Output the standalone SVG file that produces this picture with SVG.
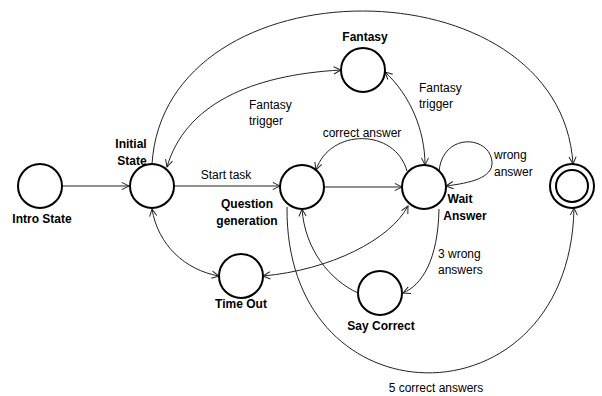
<svg xmlns="http://www.w3.org/2000/svg" width="602" height="396" viewBox="0 0 602 396">
<defs>
<marker id="arr" viewBox="0 0 10 10" refX="9" refY="5" markerWidth="9" markerHeight="9" markerUnits="userSpaceOnUse" orient="auto-start-reverse">
<path d="M1,1 L9,5 L1,9" fill="none" stroke="#222" stroke-width="1.1"/>
</marker>
<style>
.st{fill:#fff;stroke:#000;stroke-width:2}
.e{fill:none;stroke:#222;stroke-width:1}
.lb{font-family:"Liberation Sans",Arial,sans-serif;font-size:12px;font-weight:bold;fill:#000}
.t{font-family:"Liberation Sans",Arial,sans-serif;font-size:12px;fill:#000}
</style>
</defs>
<rect width="602" height="396" fill="#fff"/>
<g id="connectors">
<path class="e" d="M62,186 L129,186" marker-end="url(#arr)"/>
<path class="e" d="M174,186 L280,186" marker-end="url(#arr)"/>
<path class="e" d="M324,187 L402,187" marker-end="url(#arr)"/>
<path class="e" d="M152,164 C165,-40 560,-40 573,164" marker-end="url(#arr)"/>
<path class="e" d="M167,167 C185,105 250,75 341,70" marker-start="url(#arr)" marker-end="url(#arr)"/>
<path class="e" d="M385,72 C410,95 425,130 425,165" marker-start="url(#arr)" marker-end="url(#arr)"/>
<path class="e" d="M407,171 C395,128 330,128 316,170" marker-end="url(#arr)"/>
<path class="e" d="M439,172 C442,132 490,135 492,162 C493,178 470,183 446,186" marker-end="url(#arr)"/>
<path class="e" d="M439,209 C438,260 422,285 403,293" marker-end="url(#arr)"/>
<path class="e" d="M358,293 C330,280 305,250 302,209" marker-end="url(#arr)"/>
<path class="e" d="M263,276 C330,270 390,240 408,206" marker-start="url(#arr)" marker-end="url(#arr)"/>
<path class="e" d="M152,209 C158,245 185,270 219,276" marker-start="url(#arr)" marker-end="url(#arr)"/>
<path class="e" d="M287,207 C285,428 570,428 574,208" marker-end="url(#arr)"/>
</g>
<g id="intro"><circle class="st" cx="40" cy="186" r="22"/><text class="lb" x="42" y="223" text-anchor="middle">Intro State</text></g>
<g id="initial"><circle class="st" cx="152" cy="186" r="22"/><text class="lb" x="131" y="148" text-anchor="middle">Initial</text><text class="lb" x="132" y="165" text-anchor="middle">State</text></g>
<g id="question"><circle class="st" cx="302" cy="187" r="22"/><text class="lb" x="247" y="208" text-anchor="middle">Question</text><text class="lb" x="247" y="225" text-anchor="middle">generation</text></g>
<g id="wait"><circle class="st" cx="424" cy="187" r="22"/><text class="lb" x="460" y="203" text-anchor="middle">Wait</text><text class="lb" x="465" y="220" text-anchor="middle">Answer</text></g>
<g id="fantasy"><circle class="st" cx="363" cy="70" r="22"/><text class="lb" x="365" y="41" text-anchor="middle">Fantasy</text></g>
<g id="final"><circle class="st" cx="572" cy="186" r="22"/><circle class="st" cx="572" cy="186" r="16"/></g>
<g id="timeout"><circle class="st" cx="241" cy="276" r="22"/><text class="lb" x="241" y="308" text-anchor="middle">Time Out</text></g>
<g id="saycorrect"><circle class="st" cx="380" cy="293" r="22"/><text class="lb" x="381" y="330" text-anchor="middle">Say Correct</text></g>
<g id="labels">
<text class="t" x="226" y="179" text-anchor="middle">Start task</text>
<text class="t" x="249" y="109">Fantasy</text><text class="t" x="249" y="125">trigger</text>
<text class="t" x="419" y="92">Fantasy</text><text class="t" x="419" y="108">trigger</text>
<text class="t" x="362" y="137" text-anchor="middle">correct answer</text>
<text class="t" x="494" y="159">wrong</text><text class="t" x="494" y="176">answer</text>
<text class="t" x="438" y="258">3 wrong</text><text class="t" x="438" y="274">answers</text>
<text class="t" x="436" y="392" text-anchor="middle">5 correct answers</text>
</g>
</svg>
